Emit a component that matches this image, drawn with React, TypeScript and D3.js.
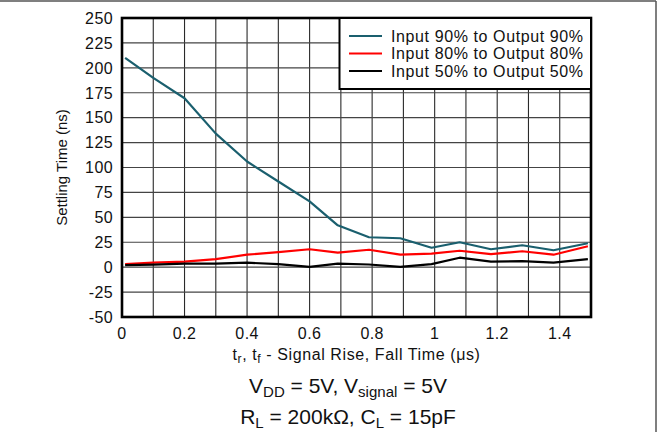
import React from "react";
import * as d3 from "d3";

// sampled rise/fall times (us)
const riseTimes = [0.01, 0.1, 0.2, 0.3, 0.4, 0.5, 0.6, 0.69, 0.79, 0.89, 0.99, 1.08, 1.18, 1.28, 1.38, 1.49];
const settle90 = [210, 190, 169.5, 134, 106, 86, 66, 42, 30, 29, 19.5, 25, 18, 22, 17, 24];
const settle80 = [3, 4.5, 5.5, 8, 12.5, 15, 18, 14.5, 17.5, 12.5, 13.5, 16.5, 13, 16, 12.5, 21];
const settle50 = [2, 2.5, 3.5, 3.5, 4.5, 3, 0.3, 3.5, 2.7, 0.3, 3, 9.5, 5.5, 6, 4.5, 8];

const seriesNames = ["Input 90% to Output 90%", "Input 80% to Output 80%", "Input 50% to Output 50%"];
const seriesColors = ["#1a5f6e", "#ff0000", "#000000"];

const xTicks = [0, 0.2, 0.4, 0.6, 0.8, 1, 1.2, 1.4];
const yTicks = [250, 225, 200, 175, 150, 125, 100, 75, 50, 25, 0, -25, -50];

const W = 660;
const H = 432;
const plot = { left: 122, right: 591, top: 18, bottom: 317 };
const font = "'Liberation Sans', Arial, Helvetica, sans-serif";

export default function App() {
  const x = d3.scaleLinear().domain([0, 1.5]).range([plot.left, plot.right]);
  const y = d3.scaleLinear().domain([-50, 250]).range([plot.bottom, plot.top]);

  const line = d3
    .line<number>()
    .x((_, i) => x(riseTimes[i]))
    .y((d) => y(d));

  const allSeries = [settle90, settle80, settle50];
  const xGrid = d3.range(0, 16).map((i) => i / 10);

  return (
    <svg
      width={W}
      height={H}
      style={{ position: "absolute", left: 0, top: 0, background: "#fff", fontFamily: font }}
    >
      {/* outer frame */}
      <line x1={0} y1={1} x2={656} y2={1} stroke="#555" strokeWidth={1.5} />
      <line x1={656} y1={1} x2={656} y2={H} stroke="#555" strokeWidth={1.5} />

      {/* grid */}
      {xGrid.map((t) => (
        <line key={"gx" + t} x1={x(t)} x2={x(t)} y1={plot.top} y2={plot.bottom} stroke="#2a2a2a" strokeWidth={1.1} />
      ))}
      {yTicks.map((t) => (
        <line key={"gy" + t} x1={plot.left} x2={plot.right} y1={y(t)} y2={y(t)} stroke="#444" strokeWidth={1.1} />
      ))}

      {/* series */}
      {allSeries.map((s, i) => (
        <path key={"s" + i} d={line(s) || ""} fill="none" stroke={seriesColors[i]} strokeWidth={2.2} strokeLinejoin="round" />
      ))}

      {/* plot border */}
      <rect
        x={plot.left}
        y={plot.top}
        width={plot.right - plot.left}
        height={plot.bottom - plot.top}
        fill="none"
        stroke="#000"
        strokeWidth={2.6}
      />

      {/* legend */}
      <rect x={339.5} y={18} width={plot.right - 339.5} height={71} fill="#fff" stroke="#000" strokeWidth={2} />
      {seriesNames.map((name, i) => (
        <g key={"lg" + i}>
          <line x1={349} x2={382} y1={36 + i * 17.5} y2={36 + i * 17.5} stroke={seriesColors[i]} strokeWidth={2.2} />
          <text x={391} y={36 + i * 17.5} dy="0.35em" fontSize={16} letterSpacing={0.6} fill="#111">
            {name}
          </text>
        </g>
      ))}

      {/* y tick labels */}
      {yTicks.map((t) => (
        <text key={"ty" + t} x={113} y={y(t)} dy="0.36em" textAnchor="end" fontSize={16} letterSpacing={0.4} fill="#111">
          {String(t)}
        </text>
      ))}

      {/* x tick labels */}
      {xTicks.map((t) => (
        <text key={"tx" + t} x={x(t)} y={339} textAnchor="middle" fontSize={16} letterSpacing={0.4} fill="#111">
          {String(t)}
        </text>
      ))}

      {/* axis titles */}
      <text x={(plot.left + plot.right) / 2} y={360} textAnchor="middle" fontSize={16} letterSpacing={0.6} fill="#111">
        t<tspan fontSize={12} dy={3}>r</tspan>
        <tspan dy={-3}>, t</tspan>
        <tspan fontSize={12} dy={3}>f</tspan>
        <tspan dy={-3}> - Signal Rise, Fall Time (μs)</tspan>
      </text>
      <text
        transform={`translate(67, ${(plot.top + plot.bottom) / 2}) rotate(-90)`}
        textAnchor="middle"
        fontSize={15}
        fill="#111"
      >
        Settling Time (ns)
      </text>

      {/* conditions */}
      <text x={348} y={393} textAnchor="middle" fontSize={21} fill="#111">
        V<tspan fontSize={15} dy={4}>DD</tspan>
        <tspan dy={-4}> = 5V, V</tspan>
        <tspan fontSize={15} dy={4}>signal</tspan>
        <tspan dy={-4}> = 5V</tspan>
      </text>
      <text x={348} y={424} textAnchor="middle" fontSize={21} fill="#111">
        R<tspan fontSize={15} dy={4}>L</tspan>
        <tspan dy={-4}> = 200kΩ, C</tspan>
        <tspan fontSize={15} dy={4}>L</tspan>
        <tspan dy={-4}> = 15pF</tspan>
      </text>
    </svg>
  );
}
